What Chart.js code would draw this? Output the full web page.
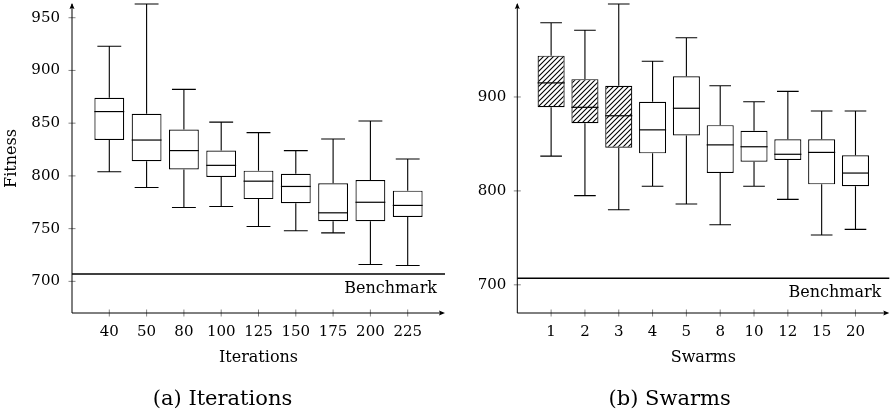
<!DOCTYPE html>
<html>
<head>
<meta charset="utf-8">
<script src="https://cdn.jsdelivr.net/npm/chart.js@4/dist/chart.umd.min.js"></script>
<style>
  html, body { margin: 0; padding: 0; background: #fff; }
  #wrap { position: relative; width: 891px; height: 417px; }
  canvas { position: absolute; top: 0; }
  #iterations { left: 0; }
  #swarms { left: 450px; }
</style>
</head>
<body>
<div id="wrap">
  <canvas id="iterations" width="450" height="417"></canvas>
  <canvas id="swarms" width="441" height="417"></canvas>
</div>
<script>
"use strict";

const BENCHMARK = 707;
const Y_MIN = 670;

// (a) Iterations
const iterLabels = ['40', '50', '80', '100', '125', '150', '175', '200', '225'];
const iterLow    = [804, 789, 770, 771, 752, 748, 746, 716, 715];
const iterQ1     = [834, 814, 806, 799, 778, 774, 757, 757, 761];
const iterMedian = [861, 834, 824, 810, 795, 790, 765, 775, 772];
const iterQ3     = [874, 859, 844, 824, 805, 802, 793, 796, 786];
const iterHigh   = [923, 963, 882, 851, 841, 824, 835, 852, 816];
const iterYTicks = [700, 750, 800, 850, 900, 950];

// (b) Swarms
const swarmLabels = ['1', '2', '3', '4', '5', '8', '10', '12', '15', '20'];
const swarmLow    = [837, 795, 780, 805, 786, 764, 805, 791, 753, 759];
const swarmQ1     = [889, 872, 846, 840, 859, 819, 831, 833, 807, 805];
const swarmMedian = [915, 889, 880, 865, 888, 849, 847, 839, 841, 819];
const swarmQ3     = [944, 919, 912, 895, 922, 870, 864, 855, 855, 838];
const swarmHigh   = [979, 971, 999, 938, 963, 912, 895, 906, 885, 885];
const swarmYTicks = [700, 800, 900];
const SWARM_HATCHED = 3;   // first boxes drawn hatched

const FONT = 'DejaVu Serif';


function hatchPattern(ctx) {
    const s = 5;
    const c = document.createElement('canvas');
    c.width = s;
    c.height = s;
    const g = c.getContext('2d');
    g.fillStyle = '#fff';
    g.fillRect(0, 0, s, s);
    g.strokeStyle = '#000';
    g.lineWidth = 1.1;
    g.beginPath();
    g.moveTo(-1, s + 1); g.lineTo(s + 1, -1);
    g.moveTo(-1, 1); g.lineTo(1, -1);
    g.moveTo(s - 1, s + 1); g.lineTo(s + 1, s - 1);
    g.stroke();
    return ctx.createPattern(c, 'repeat');
}

// whiskers, caps and medians, placed with the chart's own scales
function whiskerPlugin(low, median, high) {
    return {
        id: 'whiskers',
        afterDatasetsDraw(chart) {
            const { ctx, scales: { x, y } } = chart;
            const meta = chart.getDatasetMeta(0);
            ctx.save();
            ctx.strokeStyle = '#000';
            meta.data.forEach((bar, i) => {
                const cx = x.getPixelForValue(i + 1);
                const half = bar.width / 2;
                const cap = half * 0.8;
                const [q1, q3] = chart.data.datasets[0].data[i].y;
                ctx.lineWidth = 1.1;
                ctx.beginPath();
                ctx.moveTo(cx, y.getPixelForValue(high[i]));
                ctx.lineTo(cx, y.getPixelForValue(q3));
                ctx.moveTo(cx, y.getPixelForValue(q1));
                ctx.lineTo(cx, y.getPixelForValue(low[i]));
                ctx.moveTo(cx - cap, y.getPixelForValue(high[i]));
                ctx.lineTo(cx + cap, y.getPixelForValue(high[i]));
                ctx.moveTo(cx - cap, y.getPixelForValue(low[i]));
                ctx.lineTo(cx + cap, y.getPixelForValue(low[i]));
                ctx.stroke();
                ctx.lineWidth = 1.2;
                ctx.beginPath();
                ctx.moveTo(cx - half, y.getPixelForValue(median[i]));
                ctx.lineTo(cx + half, y.getPixelForValue(median[i]));
                ctx.stroke();
            });
            ctx.restore();
        }
    };
}

// axis lines with arrows, crossing tick marks, benchmark line
const axesPlugin = {
    id: 'axes',
    afterDraw(chart) {
        const { ctx, chartArea: a, scales: { x, y } } = chart;
        ctx.save();
        ctx.strokeStyle = '#666';
        ctx.lineWidth = 0.8;
        ctx.beginPath();
        x.ticks.forEach(t => {
            const px = x.getPixelForValue(t.value);
            ctx.moveTo(px, a.bottom - 3.5);
            ctx.lineTo(px, a.bottom + 3.5);
        });
        y.ticks.forEach(t => {
            const py = y.getPixelForValue(t.value);
            ctx.moveTo(a.left - 3.5, py);
            ctx.lineTo(a.left + 3.5, py);
        });
        ctx.stroke();

        ctx.strokeStyle = '#000';
        ctx.lineWidth = 1;
        ctx.beginPath();
        ctx.moveTo(a.left, a.bottom);
        ctx.lineTo(a.left, a.top);
        ctx.moveTo(a.left, a.bottom);
        ctx.lineTo(a.right - 2, a.bottom);
        ctx.stroke();

        ctx.fillStyle = '#000';
        ctx.beginPath();
        ctx.moveTo(a.left, a.top - 1);
        ctx.lineTo(a.left - 2.5, a.top + 5);
        ctx.lineTo(a.left, a.top + 4);
        ctx.lineTo(a.left + 2.5, a.top + 5);
        ctx.closePath();
        ctx.fill();
        ctx.beginPath();
        ctx.moveTo(a.right, a.bottom);
        ctx.lineTo(a.right - 6, a.bottom - 2.5);
        ctx.lineTo(a.right - 5, a.bottom);
        ctx.lineTo(a.right - 6, a.bottom + 2.5);
        ctx.closePath();
        ctx.fill();

        const by = y.getPixelForValue(BENCHMARK);
        ctx.lineWidth = 1.6;
        ctx.beginPath();
        ctx.moveTo(a.left, by);
        ctx.lineTo(a.right, by);
        ctx.stroke();
        ctx.font = '16px "' + FONT + '"';
        ctx.textAlign = 'right';
        ctx.textBaseline = 'middle';
        ctx.fillText('Benchmark', a.right - 8, by + 15);
        ctx.restore();
    }
};


function boxChart(id, cfg) {
    const canvas = document.getElementById(id);
    const pattern = hatchPattern(canvas.getContext('2d'));
    const n = cfg.labels.length;
    const tickFont = { family: FONT, size: 15 };
    const titleFont = { family: FONT, size: 16 };

    return new Chart(canvas, {
        type: 'bar',
        data: {
            datasets: [{
                data: cfg.labels.map((l, i) => ({ x: i + 1, y: [cfg.q1[i], cfg.q3[i]] })),
                backgroundColor: cfg.labels.map((l, i) => i < cfg.hatched ? pattern : '#fff'),
                borderColor: '#000',
                borderWidth: 1.2,
                borderSkipped: false,
                barPercentage: 0.8,
                categoryPercentage: 1
            }]
        },
        options: {
            responsive: false,
            animation: false,
            devicePixelRatio: 1,
            layout: { padding: { left: 0, top: 4, right: cfg.padRight, bottom: 0 } },
            plugins: {
                legend: { display: false },
                tooltip: { enabled: false },
                title: {
                    display: true,
                    position: 'bottom',
                    text: cfg.caption,
                    color: '#000',
                    font: { family: FONT, size: 21, weight: 'normal' },
                    padding: { top: 0, bottom: 5 }
                }
            },
            scales: {
                x: {
                    type: 'linear',
                    offset: false,
                    min: 0,
                    max: n + 1,
                    grid: { display: false, drawTicks: false, offset: false },
                    border: { display: false },
                    afterBuildTicks: s => { s.ticks = cfg.labels.map((l, i) => ({ value: i + 1 })); },
                    afterFit: s => {
                        s.height = 73.8;
                        s.paddingLeft = 0;
                        s.paddingRight = 0;
                    },
                    ticks: {
                        autoSkip: false,
                        maxRotation: 0,
                        padding: 10.5,
                        color: '#000',
                        font: tickFont,
                        callback: (v, i) => cfg.labels[i]
                    },
                    title: {
                        display: true,
                        text: cfg.xTitle,
                        color: '#000',
                        font: titleFont,
                        padding: { top: 0, bottom: 19 }
                    }
                },
                y: {
                    type: 'linear',
                    min: Y_MIN,
                    max: cfg.yMax,
                    grid: { display: false, drawTicks: false },
                    border: { display: false },
                    afterBuildTicks: s => { s.ticks = cfg.yTicks.map(v => ({ value: v })); },
                    afterFit: s => {
                        s.width = cfg.yWidth;
                        s.paddingTop = 0;
                        s.paddingBottom = 0;
                    },
                    ticks: {
                        padding: cfg.yPad,
                        color: '#000',
                        font: tickFont
                    },
                    title: {
                        display: !!cfg.yTitle,
                        text: cfg.yTitle || '',
                        color: '#000',
                        font: titleFont,
                        padding: { top: 2, bottom: 0 }
                    }
                }
            }
        },
        plugins: [whiskerPlugin(cfg.low, cfg.median, cfg.high), axesPlugin]
    });
}


boxChart('iterations', {
    labels: iterLabels,
    low: iterLow, q1: iterQ1, median: iterMedian, q3: iterQ3, high: iterHigh,
    yTicks: iterYTicks,
    yMax: 963,
    hatched: 0,
    xTitle: 'Iterations',
    yTitle: 'Fitness',
    caption: '(a) Iterations',
    yWidth: 72,
    yPad: 12,
    padRight: 5
});

boxChart('swarms', {
    labels: swarmLabels,
    low: swarmLow, q1: swarmQ1, median: swarmMedian, q3: swarmQ3, high: swarmHigh,
    yTicks: swarmYTicks,
    yMax: 999,
    hatched: SWARM_HATCHED,
    xTitle: 'Swarms',
    caption: '(b) Swarms',
    yWidth: 67.3,
    yPad: 11,
    padRight: 1.7
});
</script>
</body>
</html>
